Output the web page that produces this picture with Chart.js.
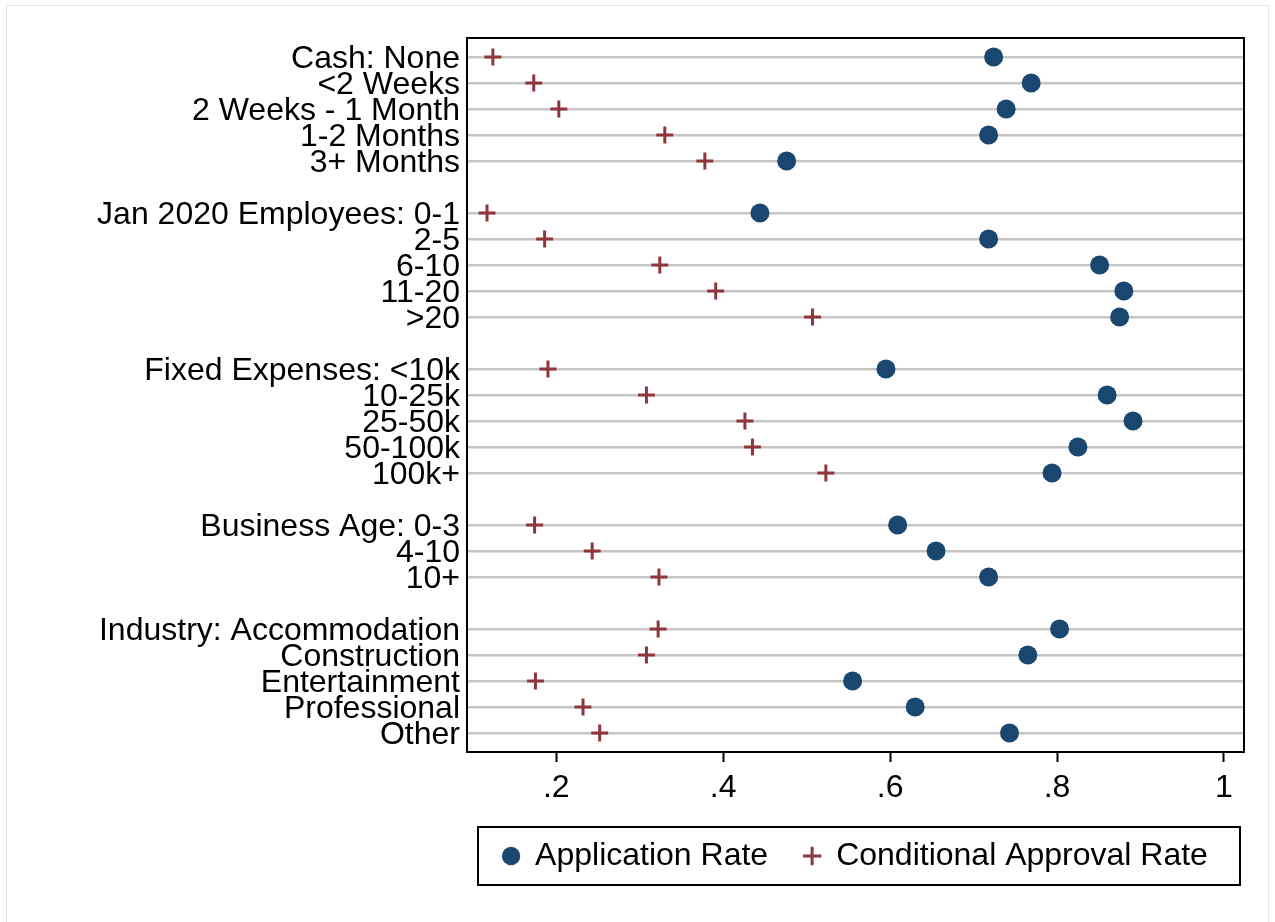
<!DOCTYPE html>
<html>
<head>
<meta charset="utf-8">
<script src="https://cdn.jsdelivr.net/npm/chart.js@4/dist/chart.umd.min.js"></script>
<style>
  html, body { margin: 0; padding: 0; background: #fff; }
  #wrap { width: 1275px; height: 922px; position: relative; }
</style>
</head>
<body>
<div id="wrap"><canvas id="mainChart"></canvas></div>
<script>
/* ── Data ─────────────────────────────────────────────────────────── */
// empty label = spacer row between groups
const categories = [
  'Cash: None', '<2 Weeks', '2 Weeks - 1 Month', '1-2 Months', '3+ Months', '',
  'Jan 2020 Employees: 0-1', '2-5', '6-10', '11-20', '>20', '',
  'Fixed Expenses: <10k', '10-25k', '25-50k', '50-100k', '100k+', '',
  'Business Age: 0-3', '4-10', '10+', '',
  'Industry: Accommodation', 'Construction', 'Entertainment', 'Professional', 'Other'
];
const appRate = [
  0.724, 0.769, 0.739, 0.718, 0.476, null,
  0.444, 0.718, 0.851, 0.880, 0.875, null,
  0.595, 0.860, 0.891, 0.825, 0.794, null,
  0.609, 0.655, 0.718, null,
  0.803, 0.765, 0.555, 0.630, 0.743
];
const approvalRate = [
  0.124, 0.173, 0.203, 0.330, 0.378, null,
  0.117, 0.186, 0.324, 0.391, 0.507, null,
  0.190, 0.308, 0.426, 0.435, 0.523, null,
  0.174, 0.243, 0.323, null,
  0.322, 0.308, 0.175, 0.232, 0.252
];
const xTicks = [0.2, 0.4, 0.6, 0.8, 1];

/* ── Helpers ──────────────────────────────────────────────────────── */
const toPoints = vals => vals
  .map((v, i) => ({ x: v, y: i }))
  .filter(p => p.x !== null);

const FONT = { family: '"Liberation Sans", Arial, Helvetica, sans-serif', size: 32 };

// plot frame, legend frame, faint outer border
const framePlugin = {
  id: 'frames',
  beforeDatasetsDraw(chart) {
    const { ctx, chartArea: a } = chart;
    ctx.save();
    ctx.strokeStyle = '#000';
    ctx.lineWidth = 2;
    ctx.strokeRect(a.left, a.top, a.right - a.left, a.bottom - a.top);
    ctx.restore();
  },
  afterDraw(chart) {
    const { ctx, chartArea: a } = chart;
    ctx.save();
    ctx.strokeStyle = '#dde9ef';
    ctx.lineWidth = 1;
    ctx.strokeRect(6.5, 5.5, chart.width - 13, chart.height);
    const hb = chart.legend.legendHitBoxes;
    if (hb && hb.length) {
      const cy = hb[0].top + hb[0].height / 2;
      ctx.strokeStyle = '#000';
      ctx.lineWidth = 2;
      ctx.strokeRect(a.left + 11, cy - 29, a.right - a.left - 15, 58);
    }
    ctx.restore();
  }
};

/* ── Chart ────────────────────────────────────────────────────────── */
const ctx = document.getElementById('mainChart').getContext('2d');
const chart = new Chart(ctx, {
  type: 'scatter',
  data: {
    datasets: [
      {
        label: 'Application Rate',
        data: toPoints(appRate),
        pointStyle: 'circle',
        pointRadius: 9.5,
        pointBackgroundColor: '#1a476f',
        pointBorderColor: '#1a476f',
        backgroundColor: '#1a476f',
        borderColor: '#1a476f',
        borderWidth: 0
      },
      {
        label: 'Conditional Approval Rate',
        data: toPoints(approvalRate),
        pointStyle: 'cross',
        pointRadius: 8.5,
        pointBorderWidth: 3,
        pointBorderColor: '#90353b',
        borderColor: '#90353b',
        backgroundColor: '#90353b',
        borderWidth: 3
      }
    ]
  },
  options: {
    responsive: true,
    maintainAspectRatio: false,
    animation: false,
    layout: { padding: { left: 0, top: 38, right: 31, bottom: 40 } },
    scales: {
      x: {
        type: 'linear',
        min: 0.093,
        max: 1.024,
        afterBuildTicks: s => { s.ticks = xTicks.map(v => ({ value: v })); },
        afterFit: s => { s.height = 52; },
        border: { display: false },
        grid: { drawOnChartArea: false, drawTicks: true, tickLength: 10, tickColor: '#000', tickWidth: 2 },
        ticks: {
          color: '#000',
          font: FONT,
          padding: 7,
          callback: v => (v === 1 ? '1' : v.toFixed(1).replace(/^0/, ''))
        }
      },
      y: {
        type: 'linear',
        reverse: true,
        min: -0.73,
        max: categories.length - 1 + 0.73,
        afterBuildTicks: s => { s.ticks = categories.map((c, i) => ({ value: i })); },
        afterFit: s => { s.width = 467; },
        border: { display: false },
        grid: {
          drawTicks: false,
          lineWidth: 2.5,
          color: c => (categories[c.index] ? '#c6c6c6' : 'rgba(0,0,0,0)')
        },
        ticks: {
          autoSkip: false,
          color: '#000',
          font: FONT,
          padding: 7,
          labelOffset: 2,
          callback: (v, i) => categories[i]
        }
      }
    },
    plugins: {
      legend: {
        position: 'bottom',
        fullSize: false,
        labels: {
          usePointStyle: true,
          boxWidth: 16,
          boxHeight: 13,
          padding: 36,
          color: '#000',
          font: FONT
        }
      },
      tooltip: { enabled: false }
    }
  },
  plugins: [framePlugin]
});
</script>
</body>
</html>
